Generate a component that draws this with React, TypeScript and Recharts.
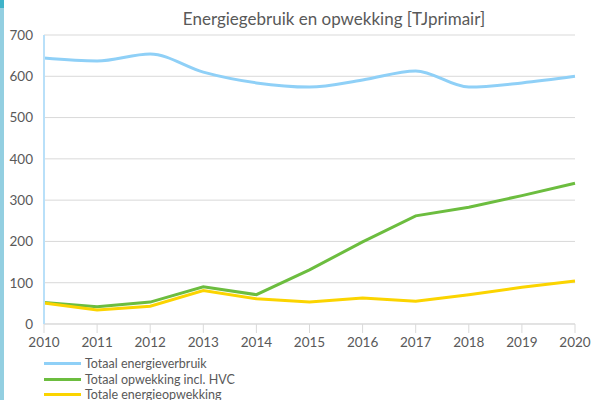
import React from "react";
import { CartesianGrid, Line, LineChart, XAxis, YAxis } from "recharts";

const years = ["2010", "2011", "2012", "2013", "2014", "2015", "2016", "2017", "2018", "2019", "2020"];
const totaalVerbruik = [644, 637, 654, 610, 584, 574, 591, 613, 574, 584, 600];
const opwekkingHVC = [52, 42, 53, 90, 71, 131, 199, 262, 283, 311, 341];
const totaleOpwekking = [51, 34, 43, 81, 61, 53, 63, 55, 71, 89, 104];
const yTicks = [0, 100, 200, 300, 400, 500, 600, 700];

const data = years.map((year, i) => ({
  year,
  verbruik: totaalVerbruik[i],
  hvc: opwekkingHVC[i],
  opwekking: totaleOpwekking[i],
}));

const FONT = "Lato, 'Open Sans', sans-serif";
const TEXT = "#595959";

const series = [
  { key: "verbruik", name: "Totaal energieverbruik", color: "#8fd0f7" },
  { key: "hvc", name: "Totaal opwekking incl. HVC", color: "#6cbd3f" },
  { key: "opwekking", name: "Totale energieopwekking", color: "#fbd400" },
];

function LegendBox() {
  return (
    <div style={{ position: "absolute", left: 44, top: 356, fontFamily: FONT, fontSize: 12.5, color: TEXT }}>
      {series.map((s) => (
        <div key={s.key} style={{ display: "flex", alignItems: "center", height: 15.5, whiteSpace: "nowrap" }}>
          <span style={{ display: "inline-block", width: 37, height: 3, background: s.color, marginRight: 4 }} />
          {s.name}
        </div>
      ))}
    </div>
  );
}

export default function App() {
  return (
    <div style={{ position: "absolute", left: 0, top: 0, width: 591, height: 400, background: "#fff", overflow: "hidden" }}>
      <div style={{ position: "absolute", left: 0, top: 0, width: 4, height: 400, background: "#93cfe1" }} />
      <div style={{ position: "absolute", left: 0, top: 0, width: 4, height: 8, background: "#3fb3c9" }} />
      <div
        style={{
          position: "absolute",
          left: 0,
          width: 668,
          top: 8,
          textAlign: "center",
          fontFamily: FONT,
          fontSize: 17,
          color: TEXT,
        }}
      >
        Energiegebruik en opwekking [TJprimair]
      </div>
      <LineChart width={591} height={400} data={data} margin={{ top: 35, right: 16, left: 0, bottom: 0 }}>
        <CartesianGrid vertical={false} stroke="#d9d9d9" strokeWidth={1} />
        <XAxis
          dataKey="year"
          height={76}
          stroke="#d9d9d9"
          tickSize={9}
          tickMargin={4}
          tick={{ fill: TEXT, fontSize: 13.5, fontFamily: FONT }}
          interval={0}
        />
        <YAxis
          width={44}
          domain={[0, 700]}
          ticks={yTicks}
          axisLine={{ stroke: "#b9e0f9", strokeWidth: 2 }}
          tickLine={false}
          tickSize={0}
          tickMargin={11}
          tick={{ fill: TEXT, fontSize: 13.5, fontFamily: FONT }}
        />
        <Line
          type="monotone"
          dataKey="verbruik"
          name="Totaal energieverbruik"
          stroke="#8fd0f7"
          strokeWidth={3}
          dot={false}
          isAnimationActive={false}
        />
        <Line
          type="linear"
          dataKey="hvc"
          name="Totaal opwekking incl. HVC"
          stroke="#6cbd3f"
          strokeWidth={3}
          dot={false}
          isAnimationActive={false}
        />
        <Line
          type="linear"
          dataKey="opwekking"
          name="Totale energieopwekking"
          stroke="#fbd400"
          strokeWidth={3}
          dot={false}
          isAnimationActive={false}
        />
      </LineChart>
      <LegendBox />
    </div>
  );
}
